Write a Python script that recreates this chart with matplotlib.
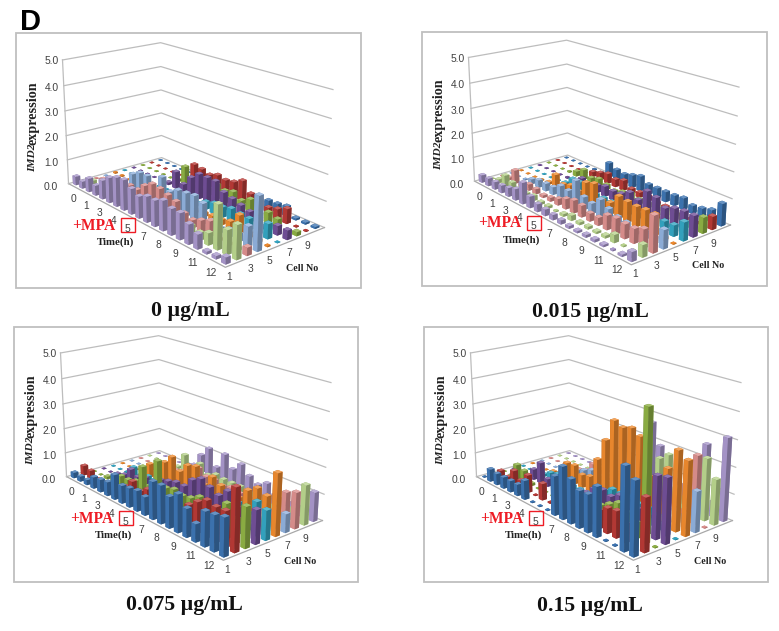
import numpy as np
import matplotlib
matplotlib.use("Agg")
import matplotlib.pyplot as plt
from matplotlib.patches import Rectangle
from matplotlib.colors import to_rgb
from mpl_toolkits.mplot3d import proj3d

# ---------- data: one list per cell, 20 time points ----------
time_labels = ["0", "1", "3", "4", "5", "7", "8", "9", "11", "12"]
cell_labels = ["1", "3", "5", "7", "9"]
z_ticks = [0, 1, 2, 3, 4, 5]
palette_forward = ["#3D74B2", "#B83A36", "#8DB044", "#714F98", "#34A5C2",
                   "#EE8A2E", "#8FB0DC", "#DC8F8D", "#B9D48D", "#A897CB"]
palette_reverse = palette_forward[::-1]

p1_c1 = [.35,.28,.55,.4,.75,1.0,1.15,1.2,1.0,.85,1.0,1.0,1.15,1.0,1.0,.75,.55,.1,.12,.25]
p1_c2 = [.02,.2,.02,.02,.05,.05,.05,.05,.05,.05,.05,.05,.05,.3,.4,.3,.45,1.65,.9,1.25]
p1_c3 = [.02,.15,.05,.35,.3,.45,.42,.73,.94,.9,.8,.7,.4,.3,.45,.59,.1,.1,.1,.3]
p1_c4 = [.02,.02,.02,.05,.66,.85,.86,.5,1.09,.66,.86,.9,.95,.8,.3,.2,.3,.3,.75,2.0]
p1_c5 = [.05,.05,.02,.02,.02,.02,.02,.05,.05,.1,.1,.1,.15,.2,.2,.3,.7,.2,.1,.05]
p1_c6 = [.02,.02,.02,.02,.02,.05,.05,.1,.1,.1,.1,.3,.4,.4,.5,.45,.43,.5,.57,.02]
p1_c7 = [.02,.02,.02,.02,.02,.1,.68,.3,.72,1.0,1.0,1.0,.7,.6,.5,.4,.3,.2,.35,.35]
p1_c8 = [.02,.02,.02,.02,.02,.1,.78,.1,.1,.3,.6,.5,.6,.4,.6,.2,.4,.3,.05,.15]
p1_c9 = [.02,.02,.02,.02,.02,.05,.76,.7,.6,.73,.66,.73,.92,.54,.5,.3,.4,.57,.03,.03]
p1_c10 = [.02,.02,.02,.02,.02,.02,.02,.02,.02,.02,.02,.02,.02,.02,.3,.32,.38,.07,.07,.07]
panel1 = [p1_c1, p1_c2, p1_c3, p1_c4, p1_c5, p1_c6, p1_c7, p1_c8, p1_c9, p1_c10]

p2_c1 = [.3,.3,.3,.3,.35,.45,.85,.45,.3,.25,.2,.15,.1,.08,.1,.1,.08,.05,.08,.35]
p2_c2 = [.02,.15,.45,.3,.2,.15,.2,.1,.1,.05,.1,.2,.1,.1,.08,.1,.3,.05,.05,.45]
p2_c3 = [.02,.1,.55,.1,.25,.2,.1,.15,.25,.4,.5,.45,.3,.3,.55,.6,.55,.55,.7,1.35]
p2_c4 = [.02,.02,.05,.2,.3,.3,.3,.5,.45,1.0,.5,.4,.7,.5,.35,.3,.1,.3,.25,.7]
p2_c5 = [.02,.02,.02,.05,.1,.55,.3,.4,.3,.8,.9,.4,.45,.85,.8,.77,.8,.8,.1,.03]
p2_c6 = [.02,.02,.02,.02,.05,.1,.4,.4,.3,.2,.2,.2,.3,.3,.2,.2,.3,.4,.42,.7]
p2_c7 = [.02,.02,.02,.02,.05,.1,.3,.2,.3,.4,.35,.4,.6,.45,.95,.85,.6,.75,.8,.8]
p2_c8 = [.02,.02,.02,.05,.2,.4,.2,.3,.2,.1,.2,.3,.2,.2,.3,.3,.3,.4,.3,.6]
p2_c9 = [.02,.02,.02,.02,.02,.2,.3,.4,.3,.4,.2,.2,.2,.1,.1,.1,.1,.1,.1,.5]
p2_c10 = [.02,.02,.02,.02,.05,.05,.6,.45,.4,.5,.6,.4,.4,.4,.4,.45,.3,.35,.45,.85]
panel2 = [p2_c1, p2_c2, p2_c3, p2_c4, p2_c5, p2_c6, p2_c7, p2_c8, p2_c9, p2_c10]

p3_c1 = [.22,.2,.2,.46,.5,.55,.98,.7,.75,.8,.71,1.44,1.45,1.18,1.43,1.06,.67,1.28,1.32,1.4]
p3_c2 = [.39,.32,.1,.1,.1,.2,.4,.74,.5,.73,.5,.4,.5,.6,.9,1.17,1.38,1.3,1.32,2.3]
p3_c3 = [.02,.02,.1,.2,.4,.4,.5,1.2,.6,1.7,.8,.9,.8,.87,1.06,.8,.9,1.29,.9,1.5]
p3_c4 = [.02,.02,.1,.2,.56,.4,.5,.5,.7,.8,.9,.9,1.28,1.47,1.3,1.14,1.45,1.0,.9,1.25]
p3_c5 = [.02,.02,.05,.39,.2,.3,.3,.3,.3,.3,.3,.4,.3,.3,.4,.5,.9,.7,1.25,1.1]
p3_c6 = [.02,.02,.05,.2,.55,.4,.9,1.25,.8,1.18,1.28,.7,1.15,.96,.7,.8,1.23,1.46,1.32,2.3]
p3_c7 = [.02,.02,.02,.1,.2,.2,.3,.5,.5,.4,.4,.5,.5,.4,.5,.5,.5,.4,.3,.7]
p3_c8 = [.02,.02,.02,.02,.1,.2,.3,.6,.7,.5,.5,.4,.5,.4,.4,.4,.5,.4,1.2,1.35]
p3_c9 = [.02,.02,.02,.02,.1,.73,.3,.63,.3,.46,.4,.4,.4,.3,.3,.3,.3,.3,.5,1.5]
p3_c10 = [.02,.02,.02,.02,.1,.2,.75,1.15,.5,1.17,.7,1.03,.7,.5,.7,.4,.4,.4,.4,1.1]
panel3 = [p3_c1, p3_c2, p3_c3, p3_c4, p3_c5, p3_c6, p3_c7, p3_c8, p3_c9, p3_c10]

p4_c1 = [.03,.5,.45,.45,.45,.45,.75,.03,.03,.03,1.5,2.0,1.68,1.4,1.42,1.85,.03,.03,3.0,2.65]
p4_c2 = [.02,.32,.2,.6,.35,.7,.03,.65,.05,.03,.03,.03,.6,.7,.7,.94,1.0,.7,.03,1.95]
p4_c3 = [.02,.02,.59,.48,.1,.03,.03,.03,.03,.03,.03,.5,.6,.6,.8,1.0,.8,.6,4.74,.03]
p4_c4 = [.02,.02,.02,.42,.83,.3,.4,.3,.3,.2,.5,.8,.9,.8,1.0,1.0,.8,.7,2.3,2.38]
p4_c5 = [.02,.02,.02,.1,.3,.4,.3,.2,.2,.2,.3,.6,.8,.8,.8,.7,.7,.6,.5,.03]
p4_c6 = [.02,.02,.02,.1,.2,.74,.77,.52,.6,1.42,2.3,3.17,3.02,3.13,2.94,1.6,1.2,2.17,2.96,2.73]
p4_c7 = [.02,.02,.02,.02,.1,.3,.45,.6,.5,.4,.5,.4,.5,.4,.3,.3,.4,.5,.5,1.52]
p4_c8 = [.02,.02,.02,.02,.1,.2,.6,.5,.3,.3,.3,.3,.4,.3,.5,.5,.4,.4,2.55,.03]
p4_c9 = [.02,.02,.02,.02,.02,.1,.1,.1,.1,.2,.2,.3,.4,1.66,1.93,.8,.6,.6,2.33,1.7]
p4_c10 = [.02,.02,.02,.02,.02,.05,.05,.05,.1,.1,.2,2.7,1.9,.5,.8,.8,.8,2.6,.6,3.1]
panel4 = [p4_c1, p4_c2, p4_c3, p4_c4, p4_c5, p4_c6, p4_c7, p4_c8, p4_c9, p4_c10]

titles = ["0 \u00b5g/mL", "0.015 \u00b5g/mL", "0.075 \u00b5g/mL", "0.15 \u00b5g/mL"]

# ---------- layout ----------
W, H = 779, 631
DARK, SERIF, SANS = "#404040", "Liberation Serif", "Liberation Sans"
GRID = "#BDBDBD"
frames = [(16, 33, 361, 288), (422, 32, 767, 286), (14, 327, 358, 582), (424, 327, 768, 582)]
shifts = [(0, 0), (406, -2.5), (-2, 293), (408, 293)]
title_xy = [(190, 311), (590, 312), (184, 605), (590, 606)]
N_T, N_C, Z_MAX = 20, 10, 5
BAR = 0.46
BAR_FLAT = 0.30   # near-zero columns look smaller: their bevel eats the footprint
SIDE = 350

# world -> reference pixel correspondences of the chart box (first panel)
world = np.array([[0, 0, 0], [N_T, 0, 0], [N_T, N_C, 0], [0, N_C, 0],
                  [0, 0, Z_MAX], [0, N_C, Z_MAX], [N_T, N_C, Z_MAX]], float)
px0 = np.array([[69, 183], [225, 268], [325, 226.5], [161, 158.5],
                [62.3, 60], [161, 42.3], [332.7, 90]], float)

fig = plt.figure(figsize=(W / 100, H / 100), dpi=100, facecolor="white")


def fx(x):
    return x / W


def fy(y):
    return 1 - y / H


def camera(ax, pixels):
    disp = np.c_[pixels[:, 0], H - pixels[:, 1]]
    ax.apply_aspect()
    uv = ax.transData.inverted().transform(disp)
    rows = []
    for (X, Y, Z), (u, v) in zip(world, uv):
        rows.append([X, Y, Z, 1, 0, 0, 0, 0, -u * X, -u * Y, -u * Z, -u])
        rows.append([0, 0, 0, 0, X, Y, Z, 1, -v * X, -v * Y, -v * Z, -v])
    P = np.linalg.svd(np.array(rows))[2][-1].reshape(3, 4)
    if P[2] @ [10, 5, 0, 1] < 0:
        P = -P
    P = P / (P[2] @ [10, 5, 0, 1])
    return np.vstack([P[0], P[1], [0, 0, 0, -1], P[2]])


def shades(color, flat):
    rgb = np.array(to_rgb(color))
    top = rgb if flat else rgb + (1 - rgb) * 0.22
    left = rgb * 0.97
    right = rgb * 0.72
    # faces: -Z, +Z, -Y, +Y, -X, +X
    return [left, top, left, left, right, right]


def draw_panel(i, values, palette):
    l, t, r, b = frames[i]
    fig.add_artist(Rectangle((fx(l), fy(b)), (r - l) / W, (b - t) / H, fill=False,
                             ec="#BFBFBF", lw=1.3, transform=fig.transFigure))
    cx, cy = (l + r) / 2, (t + b) / 2
    cy = min(max(cy, SIDE / 2 + 2), H - SIDE / 2 - 2)
    ax = fig.add_axes([fx(cx - SIDE / 2), fy(cy + SIDE / 2), SIDE / W, SIDE / H],
                      projection="3d")
    ax.set_axis_off()
    ax.set_facecolor("none")
    ax.computed_zorder = False
    M = camera(ax, px0 + np.array(shifts[i]))
    ax.get_proj = lambda: M

    for z in z_ticks:
        ax.plot([0, 0, N_T], [0, N_C, N_C], [z, z, z], color=GRID, lw=0.9, zorder=1)
    ax.plot([0, N_T, N_T], [0, 0, N_C], [0, 0, 0], color="#A8A8A8", lw=0.9, zorder=1)
    ax.plot([0, 0], [0, 0], [0, Z_MAX], color=GRID, lw=0.9, zorder=1)

    for c in range(N_C):
        for k in range(N_T):
            v = values[c][k]
            flat = v < 0.06
            w = BAR_FLAT if flat else BAR
            ax.bar3d(k + (1 - w) / 2, c + (1 - w) / 2, 0, w, w, v,
                     color=shades(palette[c], flat), shade=False, linewidth=0,
                     zorder=2 + (k - c + 20) * 0.01)
    ax.set_xticks([])
    ax.set_yticks([])
    ax.set_zticks([])

    def label(x, y, z, s, ha="center"):
        u, v, _ = proj3d.proj_transform(x, y, z, M)
        px, py = ax.transData.transform((u, v))
        fig.text(px / W, py / H, s, ha=ha, va="center", fontsize=7.4,
                 color=DARK, family=SANS)

    for z in z_ticks:
        label(0, -1.03 + 0.134 * z, z - 0.03, f"{z:.1f}", ha="right")
    for j, lab in enumerate(time_labels):
        label(3.16 + 1.866 * j, -1.54 + 0.027 * j, 0, lab)
    for j, lab in enumerate(cell_labels):
        label(21.18 + 0.05 * j, -0.69 + 1.84 * j, 0, lab)

    dx, dy = shifts[i]
    fig.text(fx(33 + dx), fy(172 + dy), "IMD2", rotation=90, ha="center", va="bottom",
             family=SERIF, weight="bold", style="italic", fontsize=8.2, color="#222222")
    fig.text(fx(33 + dx), fy(145 + dy), "expression", rotation=90, ha="center", va="bottom",
             family=SERIF, weight="bold", fontsize=10.2, color="#222222")
    fig.text(fx(115.7 + dx), fy(242.5 + dy), "Time(h)", ha="center", va="center",
             family=SERIF, weight="bold", fontsize=7.8, color="#222222")
    fig.text(fx(302 + dx), fy(268.5 + dy), "Cell No", ha="center", va="center",
             family=SERIF, weight="bold", fontsize=7.2, color="#222222")
    fig.text(fx(94 + dx), fy(226 + dy), "+MPA", ha="center", va="center",
             family=SERIF, weight="bold", fontsize=11.2, color="#EE1C25")
    fig.add_artist(Rectangle((fx(120.7 + dx), fy(232.3 + dy)), 14.3 / W, 14 / H, fill=False,
                             ec="#EE1C25", lw=1.0, transform=fig.transFigure))
    fig.text(fx(title_xy[i][0]), fy(title_xy[i][1]), titles[i], ha="center", va="center",
             family=SERIF, weight="bold", fontsize=15.7, color="#111111")


draw_panel(0, panel1, palette_reverse)
draw_panel(1, panel2, palette_reverse)
draw_panel(2, panel3, palette_forward)
draw_panel(3, panel4, palette_forward)
fig.text(fx(20), fy(22), "D", ha="left", va="center", family=SANS, weight="bold",
         fontsize=21, color="black")
fig.savefig("out.png", dpi=100)
